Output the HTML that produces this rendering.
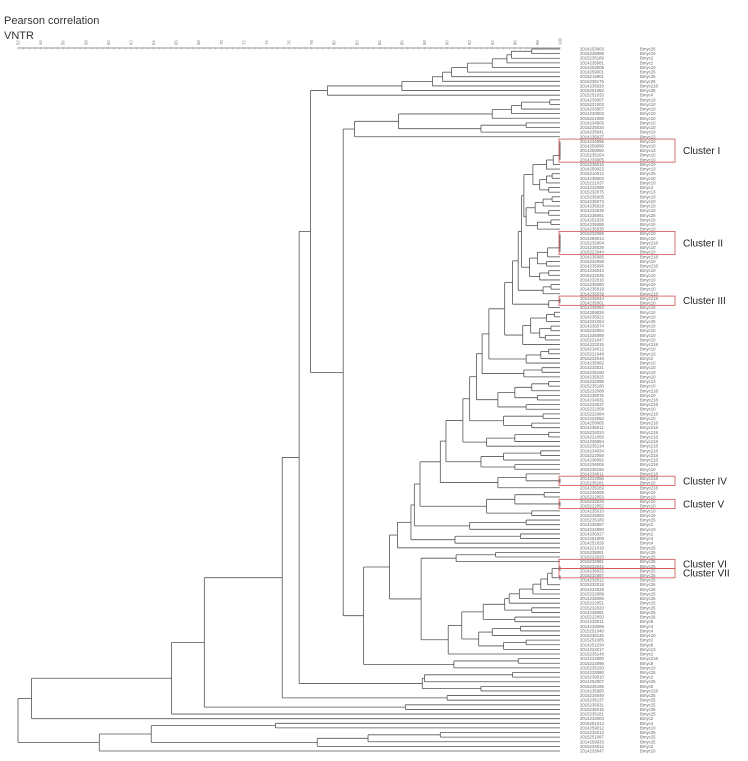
<!DOCTYPE html>
<html><head><meta charset="utf-8">
<style>
html,body{margin:0;padding:0;background:#fff;}
svg{display:block;font-family:"Liberation Sans",sans-serif;}
</style></head>
<body>
<svg id="chart" width="748" height="761" viewBox="0 0 748 761" xmlns="http://www.w3.org/2000/svg">
  <text x="4" y="24" font-size="11" fill="#333">Pearson correlation</text>
  <text x="4" y="39" font-size="11" fill="#333">VNTR</text>
  <g id="axis"></g>
  <g id="tree"></g>
  <g id="labels"></g>
  <g id="clusters"></g>
</svg>
<script>
// ---- data ----
const axisTicks = [52,54,56,58,60,62,64,66,68,70,72,74,76,78,80,82,84,86,88,90,92,94,96,98,100];
const leafIds = [
"2014253003","2015239089","2015235189","2014235081","2014253005","2014259001","2015216801","2015239175","2014235020","2015251082",
"2015251033","2014235007","2015221003","2014233007","2014233003","2015221085","2014234005","2015225034","2014235041","2014235037",
"2014234096","2014259096","2014259050","2015235164","2014233005","2014235016","2014259023","2015210012","2014235003","2015221037",
"2014232098","2015232075","2015235005","2014235073","2014235028","2014234035","2014235061","2014251028","2014235088","2014235030",
"2015232089","2014259014","2015232004","2014235029","2015222044","2014236085","2015232098","2014235096","2014235043","2015222046",
"2014232010","2014235080","2014235019","2014235039","2014235044","2014235061","2014235053","2014259026","2014235022","2014231064",
"2014235074","2015232064","2014235088","2015221047","2014222015","2014234012","2015221048","2015232048","2014235082","2014232021",
"2015235180","2014235025","2015232085","2015235180","2015232088","2014235076","2014234031","2014234037","2015221058","2015222084",
"2014222052","2014259005","2014235011","2015234024","2014221056","2014236054","2015235134","2014234034","2015222058","2014236092",
"2014236006","2015235156","2014234011","2014222056","2015235181","2014235169","2014236069","2015222053","2015232028","2015222052",
"2014235010","2015235083","2015235180","2014235087","2014234080","2014236027","2014251009","2014251026","2014221018","2015238081",
"2015222020","2015232081","2015232042","2014236025","2015232087","2014232012","2015232018","2014222028","2015222089","2014235086",
"2015222051","2015232020","2014235081","2015222050","2014233011","2014233089","2015251040","2015235146","2015251085","2014251034",
"2014222017","2015235148","2014222080","2015233096","2015235150","2014233090","2015239010","2014252007","2015235186","2014235080",
"2015234049","2015235137","2015235031","2015235016","2015235181","2014232003","2015251014","2014259012","2014232013","2015251087",
"2014259033","2015234012","2014233047"];
const leafTypes = [
"Bmyc26","Bmyc10","Bmyc2","Bmyc2","Bmyc10","Bmyc25","Bmyc25","Bmyc26","Bmyc218","Bmyc25",
"Bmyc4","Bmyc10","Bmyc10","Bmyc10","Bmyc10","Bmyc10","Bmyc10","Bmyc10","Bmyc10","Bmyc13",
"Bmyc10","Bmyc10","Bmyc13","Bmyc10","Bmyc10","Bmyc10","Bmyc10","Bmyc25","Bmyc10","Bmyc10",
"Bmyc4","Bmyc13","Bmyc10","Bmyc10","Bmyc10","Bmyc10","Bmyc26","Bmyc10","Bmyc10","Bmyc10",
"Bmyc10","Bmyc10","Bmyc218","Bmyc10","Bmyc10","Bmyc218","Bmyc10","Bmyc218","Bmyc10","Bmyc10",
"Bmyc10","Bmyc10","Bmyc10","Bmyc218","Bmyc218","Bmyc10","Bmyc10","Bmyc10","Bmyc10","Bmyc25",
"Bmyc10","Bmyc10","Bmyc10","Bmyc10","Bmyc218","Bmyc10","Bmyc10","Bmyc2","Bmyc10","Bmyc10",
"Bmyc10","Bmyc10","Bmyc13","Bmyc10","Bmyc218","Bmyc10","Bmyc218","Bmyc218","Bmyc10","Bmyc218",
"Bmyc10","Bmyc218","Bmyc218","Bmyc218","Bmyc218","Bmyc218","Bmyc218","Bmyc218","Bmyc218","Bmyc218",
"Bmyc218","Bmyc10","Bmyc218","Bmyc218","Bmyc10","Bmyc218","Bmyc10","Bmyc10","Bmyc10","Bmyc10",
"Bmyc10","Bmyc10","Bmyc25","Bmyc2","Bmyc10","Bmyc2","Bmyc4","Bmyc4","Bmyc25","Bmyc25",
"Bmyc25","Bmyc25","Bmyc25","Bmyc25","Bmyc25","Bmyc25","Bmyc26","Bmyc26","Bmyc25","Bmyc25",
"Bmyc25","Bmyc25","Bmyc25","Bmyc26","Bmyc8","Bmyc4","Bmyc4","Bmyc10","Bmyc2","Bmyc8",
"Bmyc13","Bmyc2","Bmyc218","Bmyc8","Bmyc10","Bmyc25","Bmyc2","Bmyc26","Bmyc8","Bmyc218",
"Bmyc25","Bmyc25","Bmyc25","Bmyc25","Bmyc25","Bmyc2","Bmyc4","Bmyc10","Bmyc25","Bmyc25",
"Bmyc25","Bmyc2","Bmyc10"];
const clusterNames = ["Cluster I","Cluster II","Cluster III","Cluster IV","Cluster V","Cluster VI","Cluster VII"];
const clusterFirstLeaf = [20,40,54,93,98,111,113];
const clusterLastLeaf  = [24,44,55,94,99,112,114];

// tree pieces (Newick-like; * = leaf, number after ) = correlation at merge)
const C5 = "((((*,*)100,*)100,*)100,*)100";
const tA1 = "((" + C5 + ",*)99.4,*)98.8";
const tA2 = "(((*,*)99.3,*)98.8,(*,*)99.0)98.2";
const tA3 = "(((*,*)99.3,*)98.5,(*,*)99)97.8";
const tA4 = "((*,*)99.2,*)98";
const tA = "((" + tA1 + "," + tA2 + ")97.6,(" + tA3 + "," + tA4 + ")97.0)96.8";
const tB = "(((" + C5 + ",*)98.9,(*,*)98.8)98.0,((*,*)99.0,*)98.2)97.3";
const tK = "((" + tA + "," + tB + ")96.6,((*,*)99.2,*)98.5)96.3";
const rungGroups = ["((*,*)100,*)99.0","((((*,*)99.5,*)98.8,((*,*)99.2,(*,*)98.7)98.2)97.4,*)96.7",
 "(((*,*)99,*)98.3,*)97.0","((*,*)98.4,*)96.8","((((*,*)99,*)97.5,(*,*)98)96,(*,*)97)94.5",
 "((*,*)98.5,(*,*)97.5)95","(((*,*)99,*)96,*)93.5","(((*,*)98.3,*)95,(*,*)96)93",
 "((*,(*,*)100)97,*)94.5","(((*,*)98.6,(*,*)100)96,(*,*)97.5)93.5","((*,*)97,*)92",
 "((*,*)96.5,*)90.7","*"];
const rungHeights = [95.8,95.1,93.7,93.1,92.6,92.0,91.4,89.9,89.4,87.6,87.1,86.8,85.6];
const topChainHeights = [95.7,95.3,94.0,91.8,90.4,89.6,88.7,86,79.4];
const q4Attach = ["*","*","*","*","*","(*,*)97.5","(*,*)96","*"];
const q4Heights = [98.9,98.3,97.6,96.4,95.5,95.1,93.2];
const tQ1 = "((*,*)94.3,*)90.8";
const tQ5 = "(((*,*)96.5,*)94,((*,*)97,*)95)92.8";
const tG2 = "((((((*,*)99.1,*)96.6,*)95.7,*)94,((*,*)97.0,*)93)85.7,*)81.8";
const tCc = "(((*,*)95.8,*)88,(*,*)93)87.8";
const tBot = "(((*,*)74.8,(((*,*)89.4,*)83,*)78.5)63.8,*)59.2";

// assemble
let ladder = tK;
for (let k=0;k<rungGroups.length;k++) ladder = "(" + ladder + "," + rungGroups[k] + ")" + rungHeights[k];
let q4 = "((*,*)100,(*,*)100)99.3";
for (let k=0;k<q4Heights.length;k++) q4 = "(" + q4 + "," + q4Attach[k] + ")" + q4Heights[k];
const tQ = "(" + tQ1 + ",((" + q4 + "," + tQ5 + ")91.3,*)90.1)87.7";
const t389 = "(" + ladder + "," + tQ + ")84.9";
const t363 = "(" + t389 + ",((*,*)96.3,*)90.6)82.6";
let topChain = "(*,*)97.5";
for (const h of topChainHeights) topChain = "(" + topChain + ",*)" + h;
const t343 = "(" + tG2 + "," + t363 + ")80.8";
const t310 = "(" + topChain + "," + t343 + ")77.9";
const t299 = "(" + t310 + "," + tCc + ")76.9";
const t283 = "(" + t299 + ",(*,*)90)75.4";
const t204 = "(" + t283 + ",(*,*)86.3)68.5";
const t172 = "(" + t204 + ",*)65.6";
const t31 = "(" + t172 + ",*)53.2";
const treeNewick = "(" + t31 + "," + tBot + ")52";

// ---- layout ----
const NS = "http://www.w3.org/2000/svg";
const X0 = 18, X1 = 560, Y0 = 49, Y1 = 751;
function X(v){ return X0 + (v-52)/(100-52)*(X1-X0); }
function parseTree(s){
  let pos=0, leaf=0;
  function node(){
    if (s[pos]==='*'){ pos++; return {leaf:leaf++}; }
    pos++;
    const kids=[node()];
    while (s[pos]===','){ pos++; kids.push(node()); }
    pos++;
    const m=/^[0-9.]+/.exec(s.slice(pos)); pos+=m[0].length;
    return {h:parseFloat(m[0]), kids};
  }
  const r=node(); r.count=leaf; return r;
}
const treeRoot = parseTree(treeNewick);
const nLeaves = treeRoot.count;
const step = (Y1-Y0)/(nLeaves-1);
function Y(i){ return Y0 + i*step; }

function mk(tag, attrs, parent){
  const e=document.createElementNS(NS,tag);
  for (const k in attrs) e.setAttribute(k, attrs[k]);
  parent.appendChild(e); return e;
}

// axis
const axisG = document.getElementById('axis');
const al = mk('line',{x1:X0,y1:48,x2:X1,y2:48,stroke:'#777','stroke-width':0.8},axisG);


for (let v=52; v<=100.001; v+=0.5){
  const t = mk('line',{x1:X(v),y1:47,x2:X(v),y2:49.5,stroke:'#999','stroke-width':0.5},axisG);
  
  
}
for (const v of axisTicks){
  const tx = mk('text',{x:0,y:0,'font-size':4.2,fill:'#777',transform:`translate(${X(v)+1.5},45) rotate(-90)`},axisG);
  tx.textContent = String(v);
  
  
}

// tree
const treeG = document.getElementById('tree');
function draw(n){
  if (n.leaf!==undefined) return {x:X(100), y:Y(n.leaf)};
  const cs = n.kids.map(draw);
  const x = X(n.h);
  const y = (cs[0].y + cs[cs.length-1].y)/2;
  const v = mk('line',{x1:x,y1:cs[0].y,x2:x,y2:cs[cs.length-1].y,stroke:'#555','stroke-width':0.8},treeG);
  
  
  for (const c of cs){
    const hl = mk('line',{x1:x,y1:c.y,x2:c.x,y2:c.y,stroke:'#555','stroke-width':0.8},treeG);
    
    
  }
  return {x,y};
}
draw(treeRoot);

// leaf labels
const labelsG = document.getElementById('labels');
for (let i=0;i<nLeaves;i++){
  const a = mk('text',{x:580,y:Y(i)+1.5,'font-size':4.3,fill:'#666'},labelsG);
  a.textContent = leafIds[i] || "";
  
  
  const b = mk('text',{x:640,y:Y(i)+1.5,'font-size':4.3,fill:'#666'},labelsG);
  b.textContent = leafTypes[i] || "";
  
  
}

// clusters
const clG = document.getElementById('clusters');
for (let k=0;k<clusterNames.length;k++){
  const ya = Y(clusterFirstLeaf[k]) - step*0.5, yb = Y(clusterLastLeaf[k]) + step*0.5;
  const r = mk('rect',{x:559,y:ya,width:116,height:yb-ya,fill:'none',stroke:'#d05050','stroke-width':0.8},clG);
  
  
  const t = mk('text',{x:683,y:(ya+yb)/2+3.5,'font-size':10,fill:'#222'},clG);
  t.textContent = clusterNames[k];
  
  
}
</script>
</body></html>
